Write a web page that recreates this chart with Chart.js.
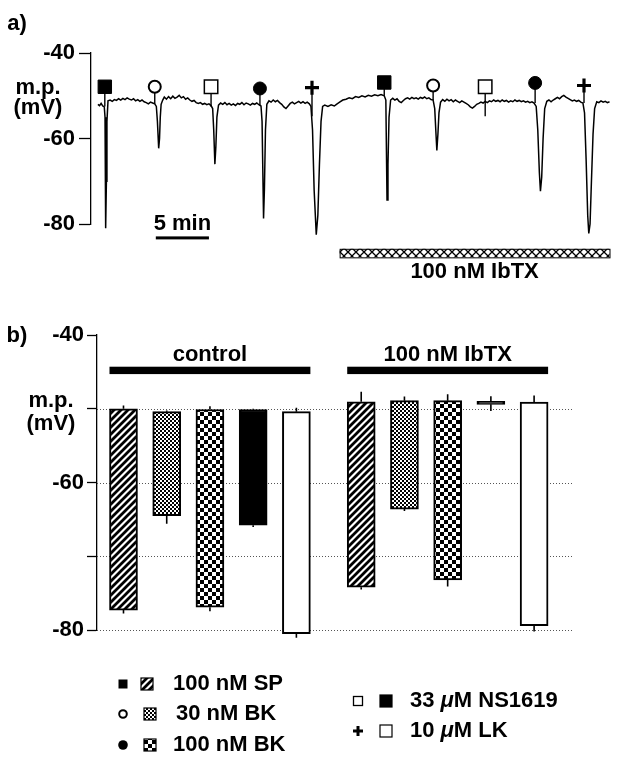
<!DOCTYPE html>
<html>
<head>
<meta charset="utf-8">
<script src="https://cdn.jsdelivr.net/npm/chart.js@4.4.0/dist/chart.umd.min.js"></script>
<style>
  body { margin: 0; background: #fff; }
  #wrap { position: relative; width: 620px; height: 767px; font-family: "Liberation Sans", Arial, sans-serif; font-weight: bold; }
  canvas { position: absolute; left: 0; }
  .lbl { position: absolute; font-size: 22px; line-height: 22px; color: #000; text-align: center; width: 64px; }
</style>
</head>
<body>
<div id="wrap">
  <canvas id="traceChart" width="620" height="300" style="top:0"></canvas>
  <canvas id="barChart" width="620" height="467" style="top:300px"></canvas>
  <div class="lbl" style="left:0;top:12px;width:34px">a)</div>
  <div class="lbl" style="left:6px;top:76px">m.p.</div>
  <div class="lbl" style="left:6px;top:96px">(mV)</div>
  <div class="lbl" style="left:0;top:324px;width:34px">b)</div>
  <div class="lbl" style="left:19px;top:389px">m.p.</div>
  <div class="lbl" style="left:19px;top:412px">(mV)</div>
</div>
<script>
// ---- panel a: membrane potential recording, [minutes, mV] ----
const trace = [
  [0.65,-52.0],[0.8,-52.3],[0.95,-51.8],[1.1,-52.4],[1.25,-52.6],[1.32,-55],[1.38,-81.0],[1.45,-70],[1.5,-56],
  [1.6,-51.2],[1.8,-51.0],[2.0,-51.3],[2.2,-50.9],[2.4,-51.1],[2.6,-50.7],[2.8,-51.0],[3.0,-50.6],[3.2,-50.9],
  [3.4,-50.5],[3.6,-50.8],[3.8,-51.0],[4.0,-50.7],[4.2,-51.2],[4.4,-50.9],[4.6,-51.3],[4.8,-51.0],[5.0,-51.4],
  [5.2,-51.6],[5.4,-51.9],[5.6,-51.5],[5.8,-51.7],[6.0,-51.9],[6.15,-52.5],[6.25,-56],[6.37,-62.3],[6.45,-60],
  [6.52,-55],[6.6,-52.0],[6.75,-51.0],[6.9,-50.3],[7.1,-50.8],[7.3,-50.2],[7.5,-50.7],[7.7,-50.1],[7.9,-50.6],
  [8.1,-50.3],[8.3,-49.9],[8.5,-50.5],[8.7,-50.2],[8.9,-50.8],[9.1,-50.5],[9.3,-51.0],[9.5,-51.3],[9.7,-51.1],
  [9.9,-51.6],[10.1,-51.8],[10.3,-51.6],[10.5,-52.0],[10.7,-51.8],[10.9,-52.1],[11.1,-51.9],[11.3,-52.3],
  [11.45,-53],[11.55,-58],[11.66,-66.0],[11.75,-62],[11.85,-55],[12.0,-52.2],[12.2,-51.7],[12.4,-52.0],
  [12.6,-51.6],[12.8,-52.1],[13.0,-51.8],[13.2,-52.2],[13.4,-51.9],[13.6,-52.3],[13.8,-51.8],[14.0,-52.0],
  [14.2,-51.6],[14.4,-52.1],[14.6,-51.7],[14.8,-51.9],[15.0,-52.2],[15.2,-51.8],[15.4,-52.0],[15.6,-51.7],
  [15.8,-52.1],[16.0,-52.4],[16.1,-56],[16.24,-78.7],[16.32,-72],[16.42,-58],[16.55,-52.0],[16.75,-51.2],
  [16.95,-51.5],[17.15,-51.0],[17.35,-51.4],[17.55,-51.1],[17.75,-51.6],[17.95,-52.0],[18.15,-52.6],
  [18.35,-53.0],[18.55,-52.4],[18.75,-51.8],[18.95,-51.5],[19.15,-51.9],[19.35,-51.6],[19.55,-51.3],
  [19.75,-51.7],[19.95,-51.4],[20.15,-51.8],[20.35,-51.5],[20.55,-51.9],[20.7,-52.5],[20.85,-58],[21.0,-72],
  [21.2,-82.5],[21.35,-78],[21.5,-66],[21.65,-56],[21.8,-52.5],[22.0,-52.2],[22.3,-52.5],[22.6,-52.1],
  [22.9,-52.4],[23.1,-52.0],[23.4,-51.5],[23.7,-51.0],[24.0,-50.8],[24.3,-50.5],[24.6,-50.7],[24.9,-50.2],
  [25.2,-50.4],[25.5,-50.0],[25.8,-50.3],[26.1,-49.9],[26.4,-50.1],[26.7,-49.8],[27.0,-50.0],[27.3,-49.7],
  [27.6,-50.0],[27.75,-51],[27.86,-74.4],[27.95,-66],[28.05,-55],[28.2,-51.0],[28.4,-50.6],[28.6,-51.0],
  [28.8,-50.7],[29.0,-51.3],[29.2,-51.6],[29.4,-51.1],[29.6,-50.7],[29.8,-50.5],[30.0,-50.8],[30.2,-50.4],
  [30.4,-50.7],[30.6,-50.5],[30.8,-50.8],[31.0,-50.4],[31.2,-50.6],[31.4,-50.3],[31.6,-50.7],[31.8,-50.5],
  [32.0,-50.9],[32.2,-51.0],[32.35,-53],[32.45,-58],[32.55,-62.8],[32.65,-59],[32.75,-54],[32.9,-51.5],
  [33.1,-50.9],[33.3,-51.3],[33.5,-50.8],[33.7,-51.2],[33.9,-50.9],[34.1,-51.4],[34.3,-51.0],[34.5,-51.3],
  [34.7,-51.6],[34.9,-51.2],[35.1,-51.5],[35.3,-51.8],[35.5,-52.1],[35.7,-52.6],[35.9,-52.9],[36.1,-52.5],
  [36.3,-52.0],[36.5,-51.8],[36.7,-51.5],[36.9,-51.7],[37.1,-51.3],[37.3,-51.6],[37.5,-51.2],[37.7,-51.4],
  [37.9,-51.0],[38.1,-51.3],[38.3,-51.1],[38.5,-51.4],[38.7,-51.0],[38.9,-51.3],[39.1,-51.1],[39.3,-51.5],
  [39.5,-51.2],[39.7,-51.4],[39.9,-51.0],[40.1,-51.3],[40.3,-51.1],[40.5,-51.4],[40.7,-51.2],[40.9,-51.5],
  [41.1,-51.3],[41.3,-51.6],[41.5,-51.4],[41.7,-51.7],[41.9,-52.5],[42.05,-58],[42.2,-68],[42.3,-72.3],
  [42.42,-69],[42.55,-60],[42.7,-53],[42.9,-51.3],[43.1,-51.0],[43.3,-51.4],[43.5,-51.0],[43.7,-50.7],
  [43.9,-50.4],[44.1,-50.7],[44.3,-50.2],[44.5,-49.9],[44.7,-50.3],[44.9,-50.6],[45.1,-50.9],[45.3,-51.2],
  [45.5,-51.0],[45.7,-51.3],[45.9,-51.1],[46.1,-51.5],[46.3,-51.7],[46.45,-54],[46.6,-65],[46.75,-78],
  [46.85,-82.2],[46.97,-80],[47.1,-70],[47.25,-59],[47.4,-53],[47.6,-51.4],[47.8,-51.6],[48.0,-51.2],
  [48.2,-51.5],[48.4,-51.3],[48.6,-51.6],[48.8,-51.4]
];

// drug applications in the recording
const eventTime    = [1.3, 6.0, 11.3, 15.9, 20.8, 27.6, 32.2, 37.1, 41.8, 46.4];
const eventLevel   = [-47.9, -47.9, -47.9, -48.3, -48.1, -46.9, -47.6, -47.9, -47.0, -47.6];
const eventStemEnd = [-52.5, -51.9, -52.6, -52.3, -54.8, -50.0, -51.0, -54.8, -51.7, -51.7];
const eventAgent   = ['SP', 'BK30', 'NS', 'BK100', 'LK', 'SP', 'BK30', 'NS', 'BK100', 'LK'];

const ibtxStart = 23.4;   // min, toxin perfusion start
const ibtxEnd = 48.8;
const scaleBarStart = 6.1;
const scaleBarLength = 5; // min

// ---- panel b: resting potential and peak hyperpolarisation (mV) ----
const agents = ['100 nM SP', '30 nM BK', '100 nM BK', '33 μM NS1619', '10 μM LK'];
const groups = ['control', '100 nM IbTX'];
const restControl = [-50.0, -50.4, -50.1, -50.1, -50.4];
const peakControl = [-77.3, -64.5, -76.9, -65.8, -80.5];
const restErrControl = [0.45, 0.15, 0.45, 0.1, 0.55];
const peakErrControl = [0.45, 1.1, 0.55, 0.25, 0.55];
const restIbtx = [-49.05, -48.9, -48.9, -49.0, -49.1];
const peakIbtx = [-74.2, -63.6, -73.2, -49.4, -79.4];
const restErrIbtx = [1.35, 0.55, 0.85, 0.7, 0.9];
const peakErrIbtx = [0.3, 0.25, 0.9, 0.9, 0.8];

const FONT = '"Liberation Sans", Arial, sans-serif';

function makePattern(size, draw) {
  const c = document.createElement('canvas');
  c.width = c.height = size;
  const g = c.getContext('2d');
  draw(g, size);
  return document.createElement('canvas').getContext('2d').createPattern(c, 'repeat');
}

const hatch = makePattern(7, (g, s) => {
  g.fillStyle = '#fff'; g.fillRect(0, 0, s, s);
  g.strokeStyle = '#000'; g.lineWidth = 2.8;
  g.beginPath();
  g.moveTo(-1, s + 1); g.lineTo(s + 1, -1);
  g.moveTo(-1, 1); g.lineTo(1, -1);
  g.moveTo(s - 1, s + 1); g.lineTo(s + 1, s - 1);
  g.stroke();
});
const fineDots = makePattern(4, (g, s) => {
  g.fillStyle = '#000'; g.fillRect(0, 0, s, s);
  g.fillStyle = '#fff'; g.fillRect(0, 0, 2, 2); g.fillRect(2, 2, 2, 2);
});
const checker = makePattern(8, (g, s) => {
  g.fillStyle = '#fff'; g.fillRect(0, 0, s, s);
  g.fillStyle = '#000'; g.fillRect(0, 0, 4, 4); g.fillRect(4, 4, 4, 4);
});
const crossHatch = makePattern(8, (g, s) => {
  g.fillStyle = '#fff'; g.fillRect(0, 0, s, s);
  g.strokeStyle = '#000'; g.lineWidth = 1.3;
  g.beginPath();
  g.moveTo(0, 0); g.lineTo(s, s);
  g.moveTo(0, s); g.lineTo(s, 0);
  g.stroke();
});
const agentFill = [hatch, fineDots, checker, '#000', '#fff'];

// marker look per agent in the recording
const markerStyle = {
  SP:    { style: 'rect', radius: 9.5, fill: '#000', width: 1 },
  BK30:  { style: 'circle', radius: 6, fill: '#fff', width: 2 },
  NS:    { style: 'rect', radius: 9.5, fill: '#fff', width: 1.5 },
  BK100: { style: 'circle', radius: 6.5, fill: '#000', width: 1 },
  LK:    { style: 'cross', radius: 7, fill: '#000', width: 3.2 }
};

// ---------------- chart a ----------------
const traceDecor = {
  id: 'traceDecor',
  beforeDatasetsDraw(chart) {
    const { ctx, scales: { x, y } } = chart;
    ctx.save();
    ctx.strokeStyle = '#000';
    ctx.lineWidth = 1.4;
    eventTime.forEach((t, i) => {
      const px = x.getPixelForValue(t);
      ctx.beginPath();
      ctx.moveTo(px, y.getPixelForValue(eventLevel[i]));
      ctx.lineTo(px, y.getPixelForValue(eventStemEnd[i]));
      ctx.stroke();
    });
    ctx.restore();
  },
  afterDraw(chart) {
    const { ctx, scales: { x, y } } = chart;
    ctx.save();
    // 5 min scale bar
    const x0 = x.getPixelForValue(scaleBarStart);
    const x1 = x.getPixelForValue(scaleBarStart + scaleBarLength);
    ctx.fillStyle = '#000';
    ctx.fillRect(x0, y.getPixelForValue(-82.9), x1 - x0, 3);
    ctx.font = 'bold 22px ' + FONT;
    ctx.textAlign = 'center';
    ctx.textBaseline = 'middle';
    ctx.fillText(scaleBarLength + ' min', (x0 + x1) / 2, y.getPixelForValue(-80.1));
    // IbTX application bar
    const b0 = x.getPixelForValue(ibtxStart);
    const b1 = x.getPixelForValue(ibtxEnd);
    const top = y.getPixelForValue(-85.8);
    const bot = y.getPixelForValue(-87.8);
    ctx.fillStyle = crossHatch;
    ctx.fillRect(b0, top, b1 - b0, bot - top);
    ctx.strokeStyle = '#000';
    ctx.lineWidth = 1;
    ctx.strokeRect(b0 + 0.5, top + 0.5, b1 - b0, bot - top);
    ctx.fillStyle = '#000';
    ctx.fillText(groups[1], (b0 + b1) / 2, y.getPixelForValue(-91.3));
    ctx.restore();
  }
};

new Chart(document.getElementById('traceChart'), {
  type: 'line',
  data: {
    datasets: [
      {
        data: trace.map(p => ({ x: p[0], y: p[1] })),
        borderColor: '#000',
        borderWidth: 1.5,
        pointRadius: 0,
        tension: 0,
        clip: false,
        order: 2
      },
      {
        data: eventTime.map((t, i) => ({ x: t, y: eventLevel[i] })),
        showLine: false,
        pointStyle: eventAgent.map(a => markerStyle[a].style),
        pointRadius: eventAgent.map(a => markerStyle[a].radius),
        pointBackgroundColor: eventAgent.map(a => markerStyle[a].fill),
        pointBorderColor: '#000',
        pointBorderWidth: eventAgent.map(a => markerStyle[a].width),
        clip: false,
        order: 1
      }
    ]
  },
  options: {
    responsive: false,
    animation: false,
    events: [],
    layout: { padding: { top: 53, bottom: 76, right: 0, left: 0 } },
    plugins: { legend: { display: false }, tooltip: { enabled: false } },
    scales: {
      x: { type: 'linear', min: 0, max: ibtxEnd, display: false },
      y: {
        min: -80, max: -40,
        afterFit(scale) { scale.width = 91; },
        ticks: { stepSize: 20, color: '#000', padding: 4, font: { family: FONT, size: 22, weight: 'bold' } },
        grid: { drawOnChartArea: false, tickLength: 12, tickColor: '#000', tickWidth: 1.3 },
        border: { display: true, color: '#000', width: 1.3 }
      }
    }
  },
  plugins: [traceDecor]
});

// ---------------- chart b ----------------
const barWidth = 28;
const groupRest = [restControl, restIbtx];
const groupPeak = [peakControl, peakIbtx];
const groupRestErr = [restErrControl, restErrIbtx];
const groupPeakErr = [peakErrControl, peakErrIbtx];
const slot = (g, i) => g * 5.5 + i + 1;

const barDecor = {
  id: 'barDecor',
  beforeDatasetsDraw(chart) {
    const { ctx, chartArea, scales: { y } } = chart;
    ctx.save();
    ctx.strokeStyle = '#555';
    ctx.lineWidth = 1;
    ctx.setLineDash([1, 2]);
    [-50, -60, -70, -80].forEach(v => {
      const py = Math.round(y.getPixelForValue(v)) + 0.5;
      ctx.beginPath();
      ctx.moveTo(chartArea.left, py);
      ctx.lineTo(chartArea.right, py);
      ctx.stroke();
    });
    ctx.restore();
  },
  afterDatasetsDraw(chart) {
    const { ctx, scales: { x, y } } = chart;
    ctx.save();
    ctx.strokeStyle = '#000';
    ctx.lineWidth = 1.6;
    groups.forEach((name, g) => {
      agents.forEach((a, i) => {
        const px = x.getPixelForValue(slot(g, i));
        const r = groupRest[g][i], p = groupPeak[g][i];
        ctx.beginPath();
        ctx.moveTo(px, y.getPixelForValue(r));
        ctx.lineTo(px, y.getPixelForValue(r + groupRestErr[g][i]));
        ctx.moveTo(px, y.getPixelForValue(p));
        ctx.lineTo(px, y.getPixelForValue(p - groupPeakErr[g][i]));
        ctx.stroke();
      });
      // group bar and caption
      const gx0 = x.getPixelForValue(slot(g, 0)) - barWidth / 2;
      const gx1 = x.getPixelForValue(slot(g, agents.length - 1)) + barWidth / 2;
      const gy0 = y.getPixelForValue(-44.3);
      const gy1 = y.getPixelForValue(-45.3);
      ctx.fillStyle = '#000';
      ctx.fillRect(gx0, gy0, gx1 - gx0, gy1 - gy0);
      ctx.font = 'bold 22px ' + FONT;
      ctx.textAlign = 'center';
      ctx.textBaseline = 'middle';
      ctx.fillText(name, (gx0 + gx1) / 2, y.getPixelForValue(-42.7));
    });
    ctx.restore();
  },
  afterDraw(chart) {
    const { ctx } = chart;
    ctx.save();
    ctx.font = 'bold 22px ' + FONT;
    ctx.textBaseline = 'middle';
    ctx.fillStyle = '#000';
    ctx.strokeStyle = '#000';
    // legend: [marker, swatch, text]
    const rows = [
      { m: 'SP', i: 0, x: 123, sx: 147, tx: 173, y: 384 },
      { m: 'BK30', i: 1, x: 123, sx: 150, tx: 176, y: 414 },
      { m: 'BK100', i: 2, x: 123, sx: 150, tx: 173, y: 445 },
      { m: 'NS', i: 3, x: 358, sx: 386, tx: 410, y: 401 },
      { m: 'LK', i: 4, x: 358, sx: 386, tx: 410, y: 431 }
    ];
    rows.forEach(r => {
      // marker
      ctx.lineWidth = 2;
      ctx.fillStyle = '#000';
      if (r.m === 'SP') ctx.fillRect(r.x - 4.5, r.y - 4.5, 9, 9);
      if (r.m === 'NS') { ctx.lineWidth = 1.3; ctx.strokeRect(r.x - 4.5, r.y - 4.5, 9, 9); }
      if (r.m === 'BK30' || r.m === 'BK100') {
        ctx.beginPath();
        ctx.arc(r.x, r.y, r.m === 'BK30' ? 3.8 : 4.8, 0, Math.PI * 2);
        r.m === 'BK30' ? ctx.stroke() : ctx.fill();
      }
      if (r.m === 'LK') {
        ctx.lineWidth = 3;
        ctx.beginPath();
        ctx.moveTo(r.x - 5, r.y); ctx.lineTo(r.x + 5, r.y);
        ctx.moveTo(r.x, r.y - 5); ctx.lineTo(r.x, r.y + 5);
        ctx.stroke();
      }
      // swatch
      ctx.fillStyle = agentFill[r.i];
      ctx.fillRect(r.sx - 6, r.y - 6, 12, 12);
      ctx.lineWidth = 1.2;
      ctx.strokeRect(r.sx - 6, r.y - 6, 12, 12);
      // text, with slanted mu
      ctx.fillStyle = '#000';
      const parts = agents[r.i].split('μ');
      let tx = r.tx;
      ctx.font = 'bold 22px ' + FONT;
      ctx.fillText(parts[0], tx, r.y);
      tx += ctx.measureText(parts[0]).width;
      if (parts.length > 1) {
        ctx.font = 'italic bold 22px ' + FONT;
        ctx.fillText('μ', tx, r.y);
        tx += ctx.measureText('μ').width;
        ctx.font = 'bold 22px ' + FONT;
        ctx.fillText(parts[1], tx, r.y);
      }
    });
    ctx.restore();
  }
};

new Chart(document.getElementById('barChart'), {
  type: 'bar',
  data: {
    datasets: agents.map((a, i) => ({
      label: a,
      data: groups.map((gname, g) => ({ x: slot(g, i), y: [groupRest[g][i], groupPeak[g][i]] })),
      backgroundColor: agentFill[i],
      borderColor: '#000',
      borderWidth: 2,
      borderSkipped: false,
      barThickness: barWidth,
      grouped: false,
      clip: false
    }))
  },
  options: {
    responsive: false,
    animation: false,
    events: [],
    layout: { padding: { top: 35, bottom: 137, right: 47, left: 0 } },
    plugins: { legend: { display: false }, tooltip: { enabled: false } },
    scales: {
      x: { type: 'linear', min: 0.387, max: 11.4, display: false, offset: false },
      y: {
        min: -80, max: -40,
        afterFit(scale) { scale.width = 97; },
        ticks: {
          stepSize: 10, color: '#000', padding: 3,
          font: { family: FONT, size: 22, weight: 'bold' },
          callback: v => (v % 20 === 0 ? String(v) : '')
        },
        grid: { drawOnChartArea: false, tickLength: 10, tickColor: '#000', tickWidth: 1.3 },
        border: { display: true, color: '#000', width: 1.3 }
      }
    }
  },
  plugins: [barDecor]
});
</script>
</body>
</html>
